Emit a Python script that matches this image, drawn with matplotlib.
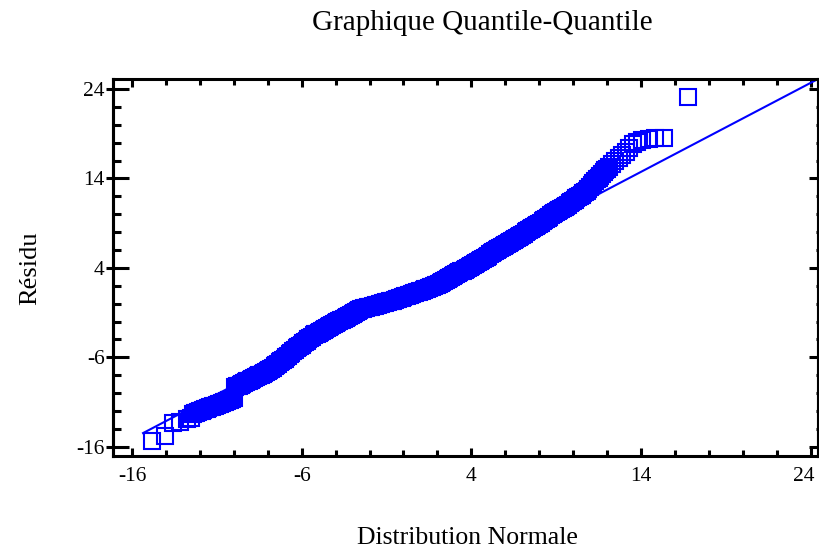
import matplotlib
matplotlib.use("Agg")
import matplotlib.pyplot as plt
from matplotlib.ticker import MultipleLocator, NullFormatter, NullLocator
from matplotlib.transforms import ScaledTranslation

plt.rcParams['font.family'] = ['Liberation Serif', 'DejaVu Serif']
plt.rcParams['axes.unicode_minus'] = False

# values (theoretical quantile, sorted residual)
normal_quantiles = [
    -14.80, -14.05, -13.60, -13.17, -12.77, -12.50,
    -12.4, -12.3, -12.2, -12.1, -12.0, -11.9, -11.8, -11.7, -11.6, -11.5,
    -11.4, -11.3, -11.2, -11.1, -11.0, -10.9, -10.8, -10.7, -10.6, -10.5,
    -10.4, -10.3, -10.2, -10.1, -10.0,
    -9.9, -9.8, -9.7, -9.6, -9.5, -9.4, -9.3, -9.2,
    -9.1, -9.0, -8.9, -8.8, -8.7, -8.6, -8.5, -8.4, -8.3, -8.2, -8.1, -8.0, -7.9,
    -7.8, -7.7, -7.6, -7.5, -7.4, -7.3, -7.2, -7.1, -7.0, -6.9,
    -6.8, -6.7, -6.6, -6.5, -6.4, -6.3,
    -6.2, -6.1, -6.0, -5.9, -5.8, -5.7, -5.6, -5.5, -5.4, -5.3,
    -5.2, -5.1, -5.0, -4.9, -4.8, -4.7, -4.6, -4.5, -4.4, -4.3, -4.2, -4.1, -4.0, -3.9,
    -3.8, -3.7, -3.6, -3.5, -3.4, -3.3, -3.2, -3.1, -3.0, -2.9, -2.8, -2.7, -2.6,
    -2.5, -2.4, -2.3, -2.2, -2.1, -2.0, -1.9, -1.8, -1.7, -1.6, -1.5, -1.4,
    -1.3, -1.2, -1.1, -1.0, -0.9, -0.8, -0.7, -0.6,
    -0.5, -0.4, -0.3, -0.2, -0.1, 0.0,
    0.1, 0.2, 0.3, 0.4, 0.5, 0.6, 0.7, 0.8, 0.9, 1.0, 1.1, 1.2, 1.3, 1.4,
    1.5, 1.6, 1.7, 1.8, 1.9, 2.0, 2.1, 2.2,
    2.3, 2.4, 2.5, 2.6, 2.7, 2.8, 2.9, 3.0,
    3.1, 3.2, 3.3, 3.4, 3.5, 3.6, 3.7, 3.8, 3.9, 4.0,
    4.1, 4.2, 4.3, 4.4, 4.5, 4.6, 4.7, 4.8, 4.9,
    5.0, 5.1, 5.2, 5.3, 5.4, 5.5, 5.6, 5.7, 5.8, 5.9, 6.0,
    6.1, 6.2, 6.3, 6.4, 6.5, 6.6, 6.7, 6.8, 6.9,
    7.0, 7.1, 7.2, 7.3, 7.4, 7.5, 7.6, 7.7, 7.8, 7.9,
    8.0, 8.1, 8.2, 8.3, 8.4, 8.5, 8.6, 8.7, 8.8,
    8.9, 9.0, 9.1, 9.2, 9.3, 9.4, 9.5, 9.6, 9.7, 9.8,
    9.9, 10.0, 10.1, 10.2, 10.3, 10.4, 10.5, 10.6, 10.7, 10.8,
    10.9, 11.0, 11.1, 11.2,
    11.3, 11.4, 11.5, 11.6, 11.7, 11.8, 11.9, 12.0,
    12.1, 12.3, 12.5, 12.7, 12.9, 13.1, 13.3, 13.55,
    13.75, 14.05, 14.45, 14.85, 15.35, 16.77,
]

residuals = [
    -15.37, -14.81, -13.40, -13.20, -12.95, -12.75,
    -12.33, -12.26, -12.18, -12.11, -12.04, -11.97, -11.90, -11.82, -11.75, -11.68,
    -11.61, -11.54, -11.46, -11.39, -11.32, -11.25, -11.18, -11.10, -11.03, -10.96,
    -10.89, -10.82, -10.74, -10.67, -10.60,
    -9.35, -9.26, -9.16, -9.07, -8.98, -8.89, -8.79, -8.70,
    -8.60, -8.51, -8.41, -8.32, -8.22, -8.12, -8.03, -7.93, -7.83, -7.74, -7.64, -7.55, -7.45,
    -7.31, -7.16, -7.02, -6.87, -6.73, -6.58, -6.44, -6.29, -6.15, -6.00,
    -5.83, -5.67, -5.50, -5.33, -5.17, -5.00,
    -4.86, -4.71, -4.57, -4.42, -4.28, -4.13, -3.99, -3.84, -3.70, -3.55,
    -3.45, -3.34, -3.24, -3.14, -3.03, -2.93, -2.83, -2.72, -2.62, -2.51, -2.41, -2.31, -2.20, -2.10,
    -1.99, -1.88, -1.78, -1.67, -1.56, -1.45, -1.35, -1.24, -1.13, -1.02, -0.92, -0.81, -0.70,
    -0.65, -0.59, -0.54, -0.48, -0.43, -0.38, -0.32, -0.27, -0.21, -0.16, -0.10, -0.05,
    0.00, 0.05, 0.10, 0.15, 0.20, 0.25, 0.30, 0.35,
    0.42, 0.48, 0.55, 0.62, 0.68, 0.75,
    0.81, 0.88, 0.94, 1.01, 1.07, 1.14, 1.20, 1.26, 1.33, 1.39, 1.46, 1.52, 1.59, 1.65,
    1.73, 1.81, 1.89, 1.98, 2.06, 2.14, 2.22, 2.30,
    2.41, 2.53, 2.64, 2.75, 2.86, 2.98, 3.09, 3.20,
    3.30, 3.40, 3.50, 3.60, 3.70, 3.80, 3.90, 4.00, 4.10, 4.20,
    4.32, 4.43, 4.55, 4.67, 4.78, 4.90, 5.02, 5.13, 5.25,
    5.37, 5.50, 5.62, 5.74, 5.86, 5.99, 6.11, 6.23, 6.35, 6.48, 6.60,
    6.71, 6.82, 6.93, 7.04, 7.16, 7.27, 7.38, 7.49, 7.60,
    7.72, 7.84, 7.96, 8.08, 8.20, 8.32, 8.44, 8.56, 8.68, 8.80,
    8.93, 9.07, 9.20, 9.33, 9.47, 9.60, 9.73, 9.87, 10.00,
    10.12, 10.24, 10.36, 10.48, 10.60, 10.72, 10.84, 10.96, 11.08, 11.20,
    11.34, 11.48, 11.62, 11.76, 11.90, 12.04, 12.18, 12.32, 12.46, 12.60,
    12.83, 13.05, 13.28, 13.50,
    13.70, 13.90, 14.10, 14.30, 14.50, 14.70, 14.90, 15.10,
    15.30, 15.60, 15.95, 16.30, 16.60, 17.00, 17.40, 17.80,
    18.05, 18.30, 18.40, 18.50, 18.50, 23.10,
]

# reference line of the plot
fit_slope = 0.995
fit_intercept = 0.80
fit_x = [-15.35, 26.0]

major_ticks = [-16, -6, 4, 14, 24]

title = "Graphique Quantile-Quantile"
x_label = "Distribution Normale"
y_label = "Résidu"

blue = '#0000ff'
spine_w = 2.2

fig = plt.figure(figsize=(8.19, 5.51), dpi=100)
ax = fig.add_axes([0.138, 0.1733, 0.8608, 0.6842])

fit_y = [fit_intercept + fit_slope * v for v in fit_x]
ax.plot(fit_x, fit_y, color=blue, linewidth=1.5)
ax.plot(normal_quantiles, residuals, linestyle='none', marker='s',
        markersize=11, markerfacecolor='none', markeredgecolor=blue,
        markeredgewidth=1.5)

ax.set_xlim(-17.12, 24.44)
ax.set_ylim(-16.98, 25.17)

for side in ax.spines.values():
    side.set_linewidth(spine_w)

ax.set_xticks(major_ticks)
ax.set_yticks(major_ticks)
ax.xaxis.set_minor_locator(MultipleLocator(2))
ax.yaxis.set_minor_locator(MultipleLocator(2))

ax.tick_params(axis='x', which='major', direction='in', length=6, width=spine_w,
               top=True, bottom=True, pad=8.5, labelsize=15.5)
ax.tick_params(axis='x', which='minor', direction='in', length=4.5, width=spine_w,
               top=True, bottom=True)
ax.tick_params(axis='y', which='major', direction='in', length=11.5, width=spine_w,
               left=True, right=False, pad=6, labelsize=15.5)
ax.tick_params(axis='y', which='minor', direction='in', length=5.8, width=spine_w,
               left=True, right=False)

# the last x label sits against the figure edge, nudge it left a bit
last_label = ax.get_xticklabels()[-1]
last_label.set_transform(last_label.get_transform()
                         + ScaledTranslation(-5 / 72, 0, fig.dpi_scale_trans))

# right side ticks are shorter than the left ones
right = ax.secondary_yaxis('right')
right.set_yticks(major_ticks)
right.yaxis.set_minor_locator(MultipleLocator(2))
right.yaxis.set_major_formatter(NullFormatter())
right.tick_params(which='major', direction='in', length=6.5, width=spine_w)
right.tick_params(which='minor', direction='in', length=1.8, width=spine_w)
right.spines['right'].set_linewidth(spine_w)

# major ticks on the left also stick out a little
left_out = ax.secondary_yaxis('left')
left_out.set_yticks(major_ticks)
left_out.yaxis.set_minor_locator(NullLocator())
left_out.yaxis.set_major_formatter(NullFormatter())
left_out.tick_params(which='major', direction='out', length=5, width=spine_w)
left_out.spines['left'].set_linewidth(spine_w)

fig.text(0.5885, 0.958, title, ha='center', va='center', fontsize=21)
fig.text(0.5702, 0.0236, x_label, ha='center', va='center', fontsize=18.5)
fig.text(0.0366, 0.5136, y_label, ha='center', va='center', rotation=90, fontsize=19)

fig.savefig('out.png', dpi=100)
